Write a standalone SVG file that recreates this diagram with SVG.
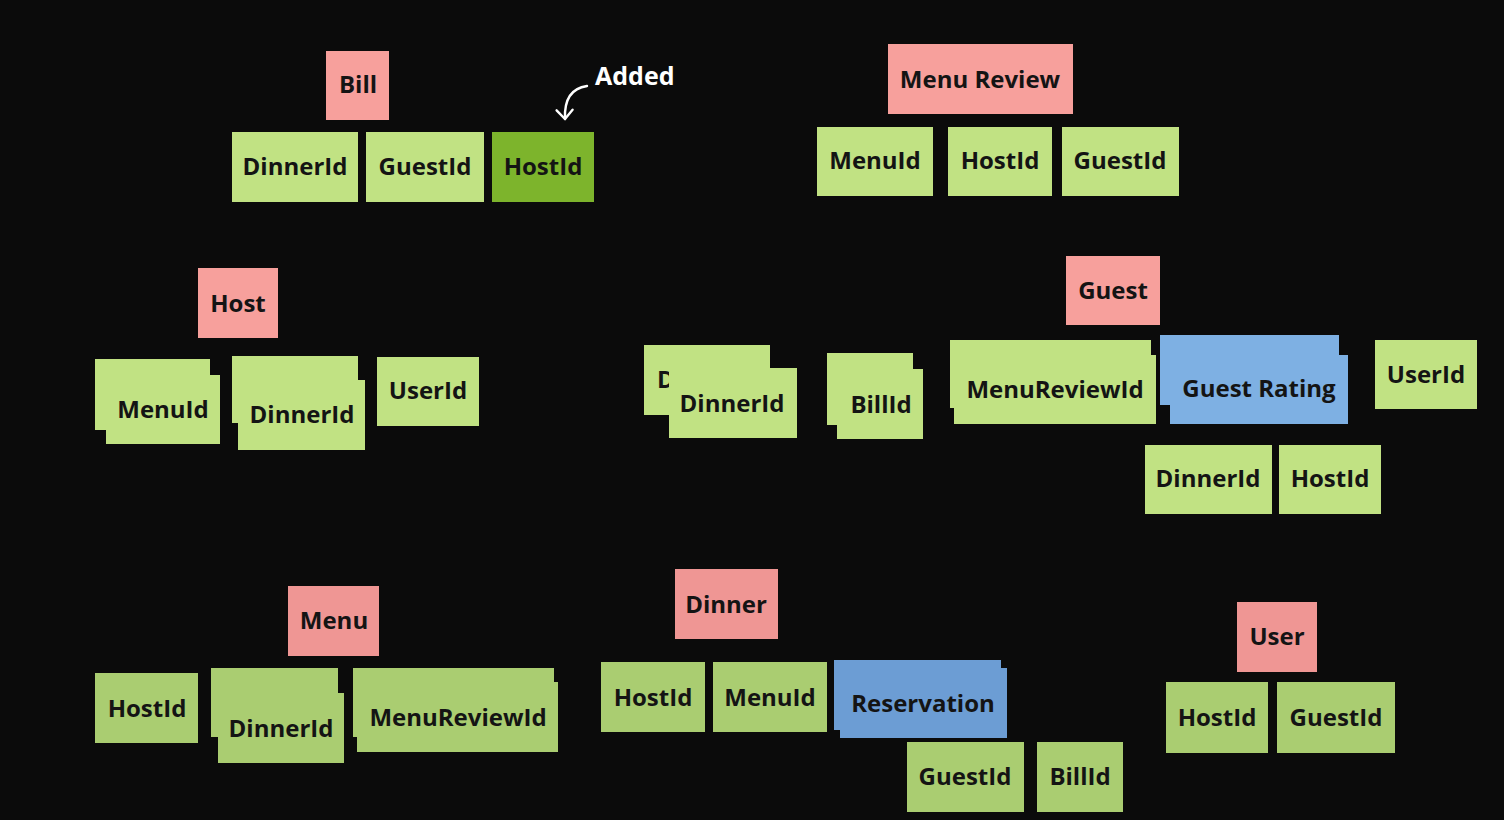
<svg xmlns="http://www.w3.org/2000/svg" width="1504" height="820" viewBox="0 0 1504 820">
<style>
text{font-family:"Open Sans",Lato,"Liberation Sans",sans-serif;font-weight:700;font-size:24px;fill:#141414;text-anchor:middle}
.pk{fill:#f7a09c}
.pk2{fill:#ef9694}
.g{fill:#c1e283}
.g2{fill:#aacd71}
.dg{fill:#7db42c}
.b{fill:#7eb0e3}
.b2{fill:#6c9dd4}
.note{fill:#fff;text-anchor:start;font-size:25px}
</style>
<defs>
<marker id="ah" viewBox="0 0 20 20" refX="17" refY="10" markerWidth="20" markerHeight="20" markerUnits="userSpaceOnUse" orient="auto">
<path d="M8,2 L17,10 L8,18" fill="none" stroke="#fff" stroke-width="2.4" stroke-linecap="round" stroke-linejoin="round"/>
</marker>
</defs>
<rect width="1504" height="820" fill="#0b0b0b"/>

<g id="connectors">
<path d="M587,86 C573,88 564,97 565,119" fill="none" stroke="#fff" stroke-width="2.4" stroke-linecap="round" marker-end="url(#ah)"/>
</g>

<g id="bill-group">
<g id="bill"><rect class="pk" x="326" y="51" width="63" height="69"/><text x="358" y="93">Bill</text></g>
<g id="bill-dinnerid"><rect class="g" x="232" y="132" width="126" height="70"/><text x="295" y="175">DinnerId</text></g>
<g id="bill-guestid"><rect class="g" x="366" y="132" width="118" height="70"/><text x="425" y="175">GuestId</text></g>
<g id="bill-hostid"><rect class="dg" x="492" y="132" width="102" height="70"/><text x="543" y="175">HostId</text></g>
<g id="added-note"><text class="note" x="595" y="85">Added</text></g>
</g>

<g id="menureview-group">
<g id="menureview"><rect class="pk" x="888" y="44" width="185" height="70"/><text x="980" y="88">Menu Review</text></g>
<g id="mr-menuid"><rect class="g" x="817" y="127" width="116" height="69"/><text x="875" y="169">MenuId</text></g>
<g id="mr-hostid"><rect class="g" x="948" y="127" width="104" height="69"/><text x="1000" y="169">HostId</text></g>
<g id="mr-guestid"><rect class="g" x="1062" y="127" width="117" height="69"/><text x="1120" y="169">GuestId</text></g>
</g>

<g id="host-group">
<g id="host"><rect class="pk" x="198" y="268" width="80" height="70"/><text x="238" y="312">Host</text></g>
<g id="host-menuid"><rect class="g" x="95" y="359" width="115" height="71"/><rect class="g" x="106" y="375" width="114" height="69"/><text x="163" y="418">MenuId</text></g>
<g id="host-dinnerid"><rect class="g" x="232" y="356" width="126" height="67"/><rect class="g" x="238" y="380" width="127" height="70"/><text x="302" y="423">DinnerId</text></g>
<g id="host-userid"><rect class="g" x="377" y="357" width="102" height="69"/><text x="428" y="399">UserId</text></g>
</g>

<g id="middle-group">
<g id="mid-dinnerid"><rect class="g" x="644" y="345" width="126" height="70"/><text x="657" y="388" style="text-anchor:start">D</text><rect class="g" x="669" y="368" width="128" height="70"/><text x="732" y="412">DinnerId</text></g>
<g id="mid-billid"><rect class="g" x="827" y="353" width="86" height="72"/><rect class="g" x="837" y="369" width="86" height="70"/><text x="881" y="413">BillId</text></g>
</g>

<g id="guest-group">
<g id="guest"><rect class="pk" x="1066" y="256" width="94" height="69"/><text x="1113" y="299">Guest</text></g>
<g id="guest-menureviewid"><rect class="g" x="950" y="340" width="201" height="68"/><rect class="g" x="954" y="355" width="202" height="69"/><text x="1055" y="398">MenuReviewId</text></g>
<g id="guest-rating"><rect class="b" x="1160" y="335" width="179" height="70"/><rect class="b" x="1170" y="355" width="178" height="69"/><text x="1259" y="397">Guest Rating</text></g>
<g id="guest-userid"><rect class="g" x="1375" y="340" width="102" height="69"/><text x="1426" y="383">UserId</text></g>
<g id="gr-dinnerid"><rect class="g" x="1145" y="445" width="127" height="69"/><text x="1208" y="487">DinnerId</text></g>
<g id="gr-hostid"><rect class="g" x="1279" y="445" width="102" height="69"/><text x="1330" y="487">HostId</text></g>
</g>

<g id="menu-group">
<g id="menu"><rect class="pk2" x="288" y="586" width="91" height="70"/><text x="334" y="629">Menu</text></g>
<g id="menu-hostid"><rect class="g2" x="95" y="673" width="103" height="70"/><text x="147" y="717">HostId</text></g>
<g id="menu-dinnerid"><rect class="g2" x="211" y="668" width="127" height="69"/><rect class="g2" x="218" y="693" width="126" height="70"/><text x="281" y="737">DinnerId</text></g>
<g id="menu-menureviewid"><rect class="g2" x="353" y="668" width="201" height="69"/><rect class="g2" x="357" y="682" width="201" height="70"/><text x="458" y="726">MenuReviewId</text></g>
</g>

<g id="dinner-group">
<g id="dinner"><rect class="pk2" x="675" y="569" width="103" height="70"/><text x="726" y="613">Dinner</text></g>
<g id="dinner-hostid"><rect class="g2" x="601" y="662" width="104" height="70"/><text x="653" y="706">HostId</text></g>
<g id="dinner-menuid"><rect class="g2" x="713" y="662" width="114" height="70"/><text x="770" y="706">MenuId</text></g>
<g id="reservation"><rect class="b2" x="834" y="660" width="167" height="70"/><rect class="b2" x="840" y="668" width="167" height="70"/><text x="923" y="712">Reservation</text></g>
<g id="res-guestid"><rect class="g2" x="907" y="742" width="117" height="70"/><text x="965" y="785">GuestId</text></g>
<g id="res-billid"><rect class="g2" x="1037" y="742" width="86" height="70"/><text x="1080" y="785">BillId</text></g>
</g>

<g id="user-group">
<g id="user"><rect class="pk2" x="1237" y="602" width="80" height="70"/><text x="1277" y="645">User</text></g>
<g id="user-hostid"><rect class="g2" x="1166" y="682" width="102" height="71"/><text x="1217" y="726">HostId</text></g>
<g id="user-guestid"><rect class="g2" x="1277" y="682" width="118" height="71"/><text x="1336" y="726">GuestId</text></g>
</g>
</svg>
